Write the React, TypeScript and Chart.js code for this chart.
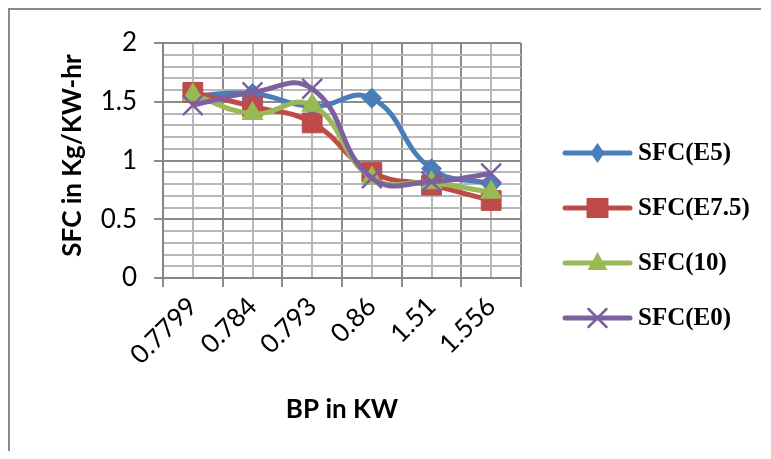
import { useEffect, useRef } from 'react';
import { Chart, registerables } from 'chart.js';

Chart.register(...registerables);

// Brake power categories (x axis) and specific fuel consumption per blend
const categories = ['0.7799', '0.784', '0.793', '0.86', '1.51', '1.556'];
const sfcE5 = [1.55, 1.57, 1.46, 1.53, 0.93, 0.8];
const sfcE75 = [1.58, 1.46, 1.32, 0.9, 0.79, 0.66];
const sfcE10 = [1.56, 1.4, 1.47, 0.85, 0.81, 0.73];
const sfcE0 = [1.47, 1.58, 1.61, 0.85, 0.82, 0.89];
const seriesNames = ['SFC(E5)', 'SFC(E7.5)', 'SFC(10)', 'SFC(E0)'];
const yTickLabels = ['0', '0.5', '1', '1.5', '2'];

const BLUE = '#4a7ebb';
const RED = '#be4b48';
const GREEN = '#98b954';
const PURPLE = '#7d60a0';

const MAJOR_GRID = '#8c8c8c';
const MINOR_GRID = '#b8b8b8';
const TICK_FONT = { family: 'Lato', size: 26 };

const CANVAS_W = 751;
const CANVAS_H = 441;

const isMultiple = (v: number, step: number) =>
  Math.abs(v / step - Math.round(v / step)) < 1e-6;

// Points sit at the middle of each category band on a 0..6 linear axis
const toPoints = (values: number[]) => values.map((y, i) => ({ x: i + 0.5, y }));

type Marker = 'diamond' | 'square' | 'triangle' | 'cross';

function drawLegendMarker(ctx: CanvasRenderingContext2D, kind: Marker, x: number, y: number, color: string) {
  ctx.fillStyle = color;
  ctx.strokeStyle = color;
  ctx.beginPath();
  if (kind === 'diamond') {
    ctx.moveTo(x, y - 10);
    ctx.lineTo(x + 7, y);
    ctx.lineTo(x, y + 10);
    ctx.lineTo(x - 7, y);
    ctx.closePath();
    ctx.fill();
  } else if (kind === 'square') {
    ctx.rect(x - 11, y - 10, 22, 20);
    ctx.fill();
  } else if (kind === 'triangle') {
    ctx.moveTo(x, y - 11);
    ctx.lineTo(x + 10, y + 7);
    ctx.lineTo(x - 10, y + 7);
    ctx.closePath();
    ctx.fill();
  } else {
    ctx.lineWidth = 2.5;
    ctx.moveTo(x - 9, y - 9);
    ctx.lineTo(x + 9, y + 9);
    ctx.moveTo(x + 9, y - 9);
    ctx.lineTo(x - 9, y + 9);
    ctx.stroke();
  }
}

const legendItems: { name: string; color: string; marker: Marker }[] = [
  { name: seriesNames[0], color: BLUE, marker: 'diamond' },
  { name: seriesNames[1], color: RED, marker: 'square' },
  { name: seriesNames[2], color: GREEN, marker: 'triangle' },
  { name: seriesNames[3], color: PURPLE, marker: 'cross' },
];

// Axis titles and the right-hand legend
const decorPlugin = {
  id: 'decor',
  afterDraw(chart: Chart) {
    const { ctx, chartArea } = chart;
    const { left, right, top, bottom } = chartArea;
    ctx.save();
    ctx.fillStyle = '#000';
    ctx.textAlign = 'center';
    ctx.textBaseline = 'middle';
    ctx.font = 'bold 26px Lato';
    ctx.fillText('BP in KW', (left + right) / 2, bottom + 132);

    ctx.save();
    ctx.translate(left - 90, (top + bottom) / 2 - 5);
    ctx.rotate(-Math.PI / 2);
    ctx.fillText('SFC in Kg/KW-hr', 0, 0);
    ctx.restore();

    const x0 = right + 44;
    const x1 = right + 109;
    legendItems.forEach((item, i) => {
      const y = top + 110 + i * 55;
      ctx.strokeStyle = item.color;
      ctx.lineWidth = 5;
      ctx.lineCap = 'round';
      ctx.beginPath();
      ctx.moveTo(x0, y);
      ctx.lineTo(x1, y);
      ctx.stroke();
      drawLegendMarker(ctx, item.marker, (x0 + x1) / 2, y, item.color);
      ctx.fillStyle = '#000';
      ctx.textAlign = 'left';
      ctx.textBaseline = 'middle';
      ctx.font = 'bold 25px "Liberation Serif"';
      ctx.fillText(item.name, x1 + 8, y + 1);
    });
    ctx.restore();
  },
};

export default function App() {
  const canvasRef = useRef<HTMLCanvasElement | null>(null);

  useEffect(() => {
    const canvas = canvasRef.current;
    if (!canvas) return;

    const line = (label: string, values: number[], color: string, extra: object) => ({
      label,
      data: toPoints(values),
      borderColor: color,
      backgroundColor: color,
      borderWidth: 5,
      tension: 0.45,
      pointBackgroundColor: color,
      pointBorderColor: color,
      pointBorderWidth: 1,
      ...extra,
    });

    const chart = new Chart(canvas, {
      type: 'line',
      data: {
        datasets: [
          line(seriesNames[3], sfcE0, PURPLE, { pointStyle: 'crossRot', pointRadius: 14, pointBorderWidth: 2.5, order: 0 }),
          line(seriesNames[2], sfcE10, GREEN, { pointStyle: 'triangle', pointRadius: 12, order: 1 }),
          line(seriesNames[1], sfcE75, RED, { pointStyle: 'rect', pointRadius: 14, order: 2 }),
          line(seriesNames[0], sfcE5, BLUE, { pointStyle: 'rectRot', pointRadius: 10, order: 3 }),
        ],
      },
      options: {
        responsive: false,
        animation: false,
        devicePixelRatio: 1,
        layout: { padding: { top: 33, right: CANVAS_W - 511, left: 0, bottom: 0 } },
        plugins: {
          legend: { display: false },
          tooltip: { enabled: false },
        },
        scales: {
          x: {
            type: 'linear',
            min: 0,
            max: categories.length,
            afterFit: (scale: any) => {
              scale.height = CANVAS_H - 268;
            },
            ticks: {
              stepSize: 0.5,
              autoSkip: false,
              minRotation: 45,
              maxRotation: 45,
              padding: 4,
              color: '#000',
              font: TICK_FONT,
              callback: (v: any) => {
                const n = Number(v);
                return isMultiple(n, 1) ? '' : categories[Math.floor(n)];
              },
            },
            grid: {
              color: (c: any) => (isMultiple(c.tick.value, 1) ? MAJOR_GRID : MINOR_GRID),
              tickColor: (c: any) => (isMultiple(c.tick.value, 1) ? MAJOR_GRID : 'rgba(0,0,0,0)'),
              lineWidth: 2,
              tickLength: 9,
            },
            border: { color: '#868686', width: 2 },
          },
          y: {
            min: 0,
            max: 2,
            afterFit: (scale: any) => {
              scale.width = 153;
            },
            ticks: {
              stepSize: 0.1,
              autoSkip: false,
              padding: 17,
              color: '#000',
              font: TICK_FONT,
              callback: (v: any) => {
                const n = Number(v);
                return isMultiple(n, 0.5) ? yTickLabels[Math.round(n / 0.5)] : '';
              },
            },
            grid: {
              color: (c: any) => (isMultiple(c.tick.value, 0.5) ? MAJOR_GRID : MINOR_GRID),
              tickColor: (c: any) => (isMultiple(c.tick.value, 0.5) ? MAJOR_GRID : 'rgba(0,0,0,0)'),
              lineWidth: 2,
              tickLength: 9,
            },
            border: { color: '#868686', width: 2 },
          },
        },
      },
      plugins: [decorPlugin],
    } as any);

    return () => chart.destroy();
  }, []);

  return (
    <div
      style={{
        width: CANVAS_W + 2,
        height: CANVAS_H + 2,
        borderLeft: '2px solid #8a8a8a',
        borderTop: '2px solid #8a8a8a',
        boxSizing: 'border-box',
        background: '#fff',
      }}
    >
      <canvas ref={canvasRef} width={CANVAS_W} height={CANVAS_H} style={{ display: 'block', width: CANVAS_W, height: CANVAS_H }} />
    </div>
  );
}
